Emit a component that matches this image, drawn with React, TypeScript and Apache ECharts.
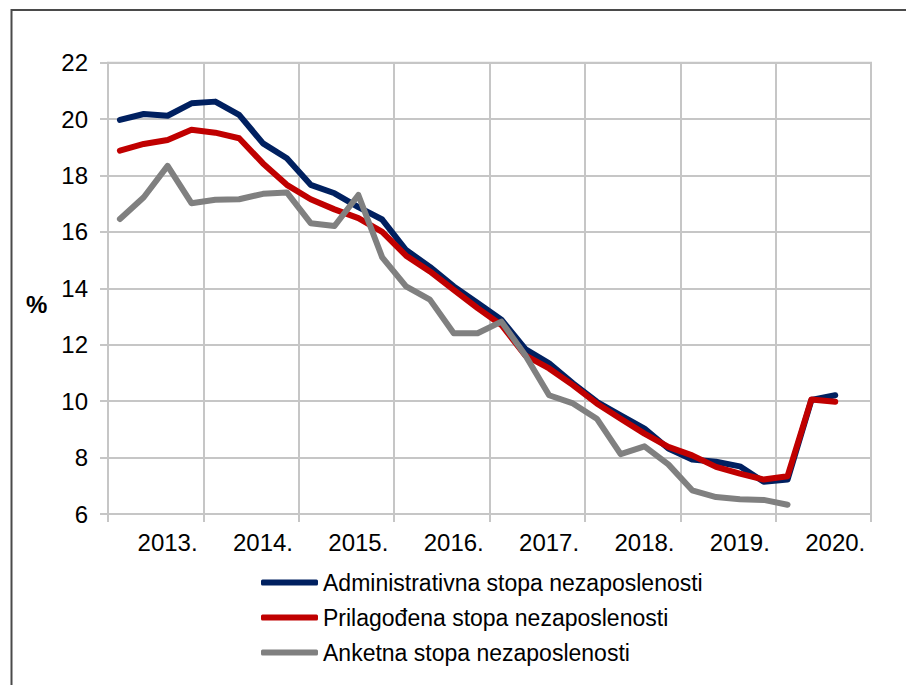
import React, { useEffect, useRef } from "react";
import * as echarts from "echarts";

const years = ["2013.", "2014.", "2015.", "2016.", "2017.", "2018.", "2019.", "2020."];
const quarters = ["Q1", "Q2", "Q3", "Q4"];
const categories = years.flatMap((y) => quarters.map((q) => `${y} ${q}`));

const yTicks = { min: 6, max: 22, interval: 2 };

const seriesNames = [
  "Administrativna stopa nezaposlenosti",
  "Prilagođena stopa nezaposlenosti",
  "Anketna stopa nezaposlenosti",
];

const administrativna = [
  19.97, 20.18, 20.12, 20.56, 20.62, 20.15, 19.14, 18.61,
  17.67, 17.37, 16.88, 16.44, 15.36, 14.76, 14.07, 13.48,
  12.89, 11.85, 11.34, 10.63, 9.98, 9.5, 9.03, 8.32,
  7.93, 7.85, 7.69, 7.14, 7.22, 10.04, 10.21, null,
];

const prilagodjena = [
  18.88, 19.12, 19.26, 19.62, 19.52, 19.32, 18.43, 17.67,
  17.16, 16.8, 16.49, 16.0, 15.16, 14.6, 13.95, 13.3,
  12.7, 11.62, 11.16, 10.57, 9.92, 9.38, 8.85, 8.38,
  8.08, 7.67, 7.43, 7.22, 7.34, 10.06, 9.98, null,
];

const anketna = [
  16.46, 17.23, 18.34, 17.02, 17.14, 17.16, 17.35, 17.4,
  16.31, 16.21, 17.31, 15.1, 14.07, 13.6, 12.41, 12.41,
  12.82, 11.63, 10.21, 9.92, 9.38, 8.12, 8.4, 7.76,
  6.84, 6.6, 6.52, 6.5, 6.33, null, null, null,
];

const colors = ["#002060", "#C00000", "#808080"];

const FONT = "'Liberation Sans', Arial, sans-serif";
const GRID_COLOR = "#c6c6c6";

export default function App() {
  const ref = useRef<HTMLDivElement>(null);

  useEffect(() => {
    if (!ref.current) return;
    const chart = echarts.init(ref.current, null, { renderer: "svg" });
    const values = [administrativna, prilagodjena, anketna];
    chart.setOption({
      animation: false,
      backgroundColor: "#ffffff",
      textStyle: { fontFamily: FONT },
      grid: {
        left: 108,
        right: 35,
        top: 62.7,
        bottom: 171,
        show: true,
        borderColor: GRID_COLOR,
        borderWidth: 2,
      },
      graphic: [
        {
          type: "rect",
          shape: { x: 11.5, y: 10, width: 1200, height: 1200 },
          style: { fill: "none", stroke: "#4a4a4a", lineWidth: 2 },
          silent: true,
        },
        {
          type: "text",
          left: 26,
          top: 292,
          style: {
            text: "%",
            font: `bold 24px ${FONT}`,
            fill: "#000",
          },
        },
      ],
      legend: {
        orient: "vertical",
        left: 256,
        top: 566,
        itemWidth: 57,
        itemHeight: 6,
        itemGap: 12,
        icon: "roundRect",
        textStyle: { fontSize: 23, color: "#000", fontFamily: FONT },
        data: seriesNames,
      },
      xAxis: {
        type: "category",
        data: categories,
        boundaryGap: true,
        axisLine: { show: true, lineStyle: { color: GRID_COLOR, width: 2 } },
        axisTick: { show: true, interval: 3, length: 8, lineStyle: { color: GRID_COLOR, width: 2 } },
        splitLine: { show: true, interval: 3, lineStyle: { color: GRID_COLOR, width: 2 } },
        axisLabel: {
          interval: (idx: number) => idx % 4 === 2,
          formatter: (v: string) => v.split(" ")[0],
          fontSize: 24,
          color: "#000",
          margin: 16,
          fontFamily: FONT,
        },
      },
      yAxis: {
        type: "value",
        min: yTicks.min,
        max: yTicks.max,
        interval: yTicks.interval,
        axisLine: { show: true, lineStyle: { color: GRID_COLOR, width: 2 } },
        axisTick: { show: true, length: 8, lineStyle: { color: GRID_COLOR, width: 2 } },
        splitLine: { show: true, lineStyle: { color: GRID_COLOR, width: 2 } },
        axisLabel: { fontSize: 24, color: "#000", margin: 20, fontFamily: FONT },
      },
      series: seriesNames.map((name, i) => ({
        name,
        type: "line",
        data: values[i],
        symbol: "none",
        color: colors[i],
        connectNulls: false,
        lineStyle: { width: 6, color: colors[i], cap: "round", join: "round" },
        z: 2 + i,
      })),
    });
    return () => chart.dispose();
  }, []);

  return (
    <div
      ref={ref}
      style={{ position: "fixed", left: 0, top: 0, width: 906, height: 685 }}
    />
  );
}
